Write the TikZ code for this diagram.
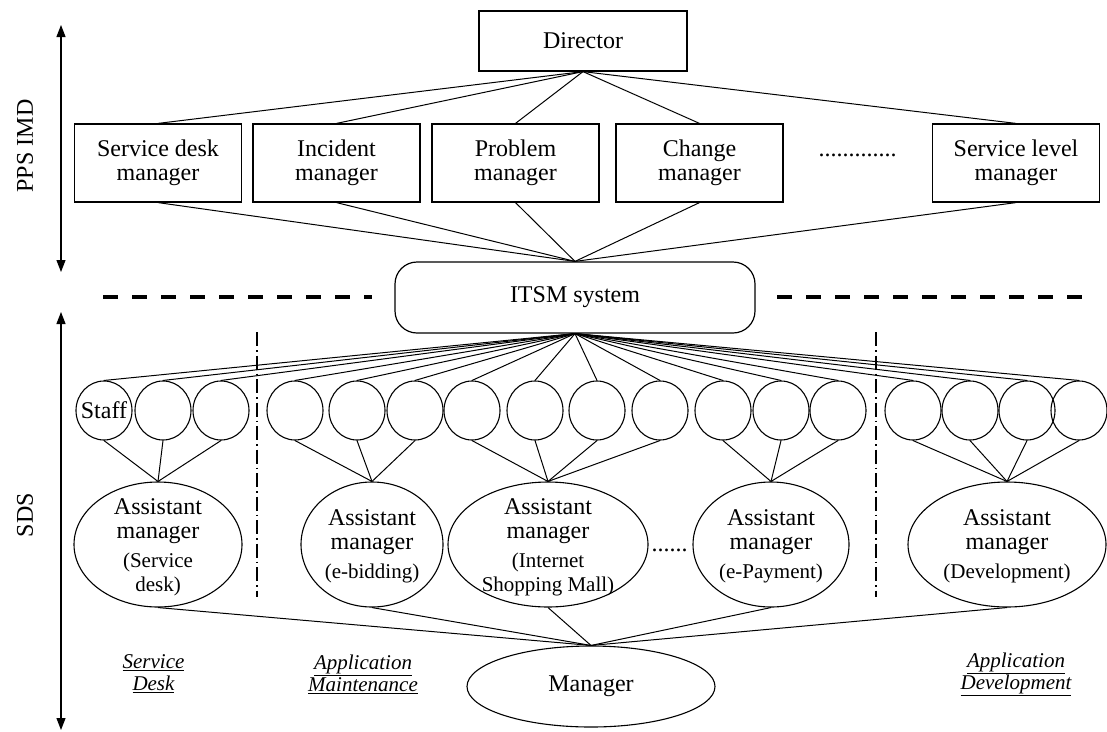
\documentclass[tikz,border=0pt]{standalone}
\usepackage{fontspec}
\setmainfont{Liberation Serif}
\usetikzlibrary{arrows.meta,shapes.geometric}
\newcommand\bigf{\fontsize{24}{24}\selectfont}
\newcommand\smf{\fontsize{21}{22}\selectfont}
\tikzset{
  conn/.style={line width=1pt, black},
  mgrbox/.style={draw, line width=1.2pt, rectangle, minimum width=167pt, minimum height=78pt, inner sep=0pt, align=center, font=\bigf},
  staffc/.style={draw, line width=1.1pt, ellipse, minimum width=56pt, minimum height=59pt, inner sep=0pt},
  asst/.style={draw, line width=1.1pt, ellipse, minimum height=125pt, inner sep=0pt},
  asstxt/.style={align=center, font=\bigf, inner sep=0pt},
  grouplabel/.style={font=\smf\itshape, align=center, inner sep=0pt},
  sepline/.style={line width=3.5pt, dash pattern=on 15pt off 14pt},
  divider/.style={line width=1.3pt, dash pattern=on 14pt off 4pt on 1.5pt off 4pt},
  spanarrow/.style={line width=1.2pt, {Triangle[length=12pt,width=9pt]}-{Triangle[length=12pt,width=9pt]}},
  plain/.style={font=\bigf, inner sep=0pt},
}
\begin{document}
\begin{tikzpicture}[x=1pt, y=-1pt]
\fill[white] (0,0) rectangle (1107,731);
\useasboundingbox (0,0) rectangle (1107,731);

% side arrows and labels
\coordinate (a1t) at (61,25);
\coordinate (a1b) at (61,272);
\coordinate (a2t) at (61,312);
\coordinate (a2b) at (61,730);
\draw[spanarrow] (a1t) -- (a1b);
\draw[spanarrow] (a2t) -- (a2b);
\node[plain, rotate=90] (ppsimd) at (25,146) {PPS IMD};
\node[plain, rotate=90] (sds) at (25,515) {SDS};

% top level
\node[draw, line width=1.2pt, minimum width=208pt, minimum height=60pt, inner sep=0pt, font=\bigf] (dir) at (583,41) {Director};
\node[mgrbox] (sdm) at (158,163) {Service desk\\manager};
\node[mgrbox] (inc) at (336.5,163) {Incident\\manager};
\node[mgrbox] (prb) at (515.5,163) {Problem\\manager};
\node[mgrbox] (chg) at (699.5,163) {Change\\manager};
\node[mgrbox] (slm) at (1016,163) {Service level\\manager};
\node[plain, anchor=base] (dotsA) at (857.5,156) {.............};

\node[draw, line width=1.2pt, rounded corners=22pt, minimum width=360pt, minimum height=71pt, inner sep=0pt, font=\bigf] (itsm) at (575,297.5) {ITSM system};

\foreach \m in {sdm,inc,prb,chg,slm}{
  \draw[conn] (dir.south) -- (\m.north);
  \draw[conn] (\m.south) -- (itsm.north);
}

% separators
\coordinate (dl1) at (103,297);
\coordinate (dl2) at (372,297);
\coordinate (dr1) at (777,297);
\coordinate (dr2) at (1082,297);
\draw[sepline] (dl1) -- (dl2);
\draw[sepline] (dr1) -- (dr2);
\coordinate (v1t) at (257,332);
\coordinate (v1b) at (257,597);
\coordinate (v2t) at (876,332);
\coordinate (v2b) at (876,597);
\draw[divider] (v1t) -- (v1b);
\draw[divider] (v2t) -- (v2b);

% assistant managers
\node[asst, minimum width=168pt] (am1) at (158,544.5) {};
\node[asst, minimum width=142pt] (am2) at (372,544.5) {};
\node[asst, minimum width=200pt] (am3) at (548,544.5) {};
\node[asst, minimum width=156pt] (am4) at (771,544.5) {};
\node[asst, minimum width=198pt] (am5) at (1007,544.5) {};
\node[asstxt] (am1t) at (158,547) {Assistant\\manager\\[5pt]{\smf (Service}\\{\smf desk)}};
\node[asstxt] (am2t) at (372,546) {Assistant\\manager\\[5pt]{\smf (e-bidding)}};
\node[asstxt] (am3t) at (548,547) {Assistant\\manager\\[5pt]{\smf (Internet}\\{\smf Shopping Mall)}};
\node[asstxt] (am4t) at (771,546) {Assistant\\manager\\[5pt]{\smf (e-Payment)}};
\node[asstxt] (am5t) at (1007,546) {Assistant\\manager\\[5pt]{\smf (Development)}};
\node[plain, anchor=base] (dotsB) at (669.5,551) {......};

% staff
\foreach \x [count=\i] in {104,163,221,295,357,415,472,535,597,660,723,781,838,913,970,1027,1079}{
  \node[staffc] (s\i) at (\x,410.5) {};
  \draw[conn] (itsm.south) -- (s\i.north);
}
\node[plain] (stafftxt) at (s1) {Staff};
\foreach \i in {1,2,3}{\draw[conn] (s\i.south) -- (am1.north);}
\foreach \i in {4,5,6}{\draw[conn] (s\i.south) -- (am2.north);}
\foreach \i in {7,8,9,10}{\draw[conn] (s\i.south) -- (am3.north);}
\foreach \i in {11,12,13}{\draw[conn] (s\i.south) -- (am4.north);}
\foreach \i in {14,15,16,17}{\draw[conn] (s\i.south) -- (am5.north);}

% manager
\node[draw, line width=1.1pt, ellipse, minimum width=248pt, minimum height=81pt, inner sep=0pt, font=\bigf] (mgr) at (591,686.5) {Manager};
\foreach \a in {am1,am2,am3,am4,am5}{\draw[conn] (\a.south) -- (mgr.north);}

% group labels
\node[grouplabel] (gl1) at (153.5,674) {\underline{Service}\\\underline{Desk}};
\node[grouplabel] (gl2) at (363,674) {\underline{Application}\\\underline{Maintenance}};
\node[grouplabel] (gl3) at (1016,674) {\underline{Application}\\\underline{Development}};
\end{tikzpicture}
\end{document}
